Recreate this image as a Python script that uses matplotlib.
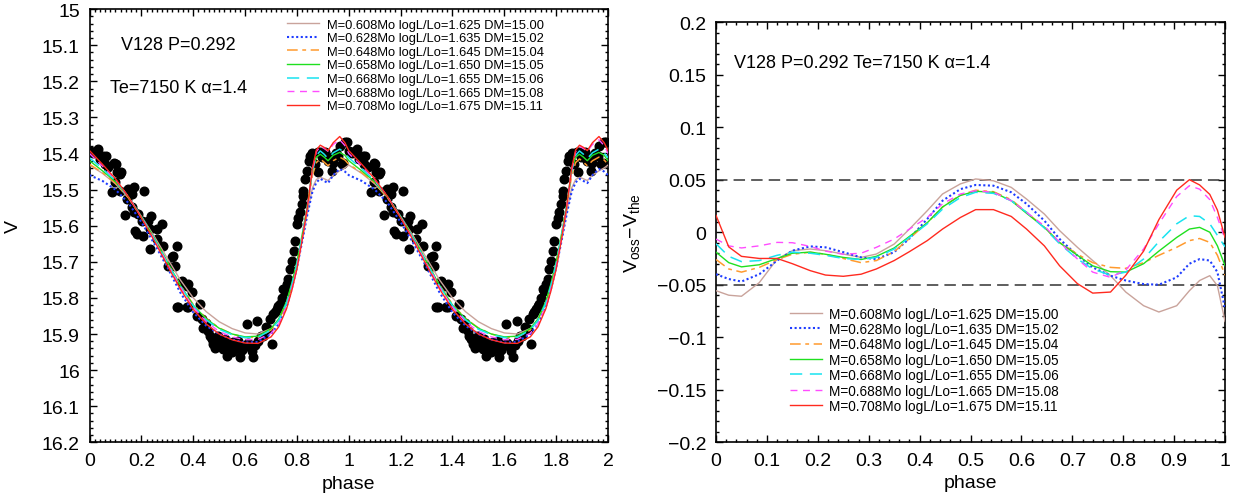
import matplotlib
matplotlib.use("Agg")
import matplotlib.pyplot as plt
from matplotlib.ticker import MultipleLocator, FuncFormatter

plt.rcParams['font.family'] = ['Liberation Sans', 'DejaVu Sans']
plt.rcParams['mathtext.fontset'] = 'custom'
plt.rcParams['mathtext.rm'] = 'Liberation Sans'

# ---------------- data ----------------
labels = [
    "M=0.608Mo logL/Lo=1.625 DM=15.00",
    "M=0.628Mo logL/Lo=1.635 DM=15.02",
    "M=0.648Mo logL/Lo=1.645 DM=15.04",
    "M=0.658Mo logL/Lo=1.650 DM=15.05",
    "M=0.668Mo logL/Lo=1.655 DM=15.06",
    "M=0.688Mo logL/Lo=1.665 DM=15.08",
    "M=0.708Mo logL/Lo=1.675 DM=15.11",
]

# observed points (one cycle, phase 0-1)
obs_phase = [0.002, 0.012, 0.019, 0.024, 0.031, 0.040, 0.053, 0.060, 0.063, 0.073,
             0.086, 0.096, 0.098, 0.101, 0.105, 0.118, 0.118, 0.121, 0.137, 0.146,
             0.147, 0.163, 0.163, 0.172, 0.172, 0.175, 0.182, 0.188, 0.201, 0.208,
             0.210, 0.227, 0.233, 0.233, 0.236, 0.259, 0.262, 0.281, 0.285, 0.304,
             0.317, 0.323, 0.330, 0.336, 0.336, 0.343, 0.356, 0.356, 0.375, 0.375,
             0.381, 0.381, 0.394, 0.413, 0.426, 0.433, 0.439, 0.450, 0.458, 0.465,
             0.471, 0.478, 0.485, 0.497, 0.503, 0.510, 0.516, 0.522, 0.529, 0.535,
             0.542, 0.548, 0.555, 0.561, 0.568, 0.574, 0.581, 0.587, 0.593, 0.606,
             0.612, 0.620, 0.626, 0.632, 0.640, 0.647, 0.651, 0.660, 0.670, 0.680,
             0.690, 0.696, 0.703, 0.709, 0.716, 0.722, 0.728, 0.735, 0.741, 0.748,
             0.754, 0.761, 0.767, 0.773, 0.780, 0.787, 0.793, 0.799, 0.806, 0.812,
             0.818, 0.825, 0.825, 0.832, 0.838, 0.845, 0.851, 0.860, 0.870, 0.880,
             0.883, 0.889, 0.895, 0.902, 0.910, 0.920, 0.934, 0.934, 0.940, 0.950,
             0.960, 0.965, 0.973, 0.979, 0.986, 0.992]
obs_V = [15.392, 15.400, 15.397, 15.392, 15.388, 15.415, 15.406, 15.429, 15.406, 15.438,
         15.508, 15.427, 15.480, 15.429, 15.452, 15.457, 15.503, 15.452, 15.571, 15.526,
         15.499, 15.512, 15.549, 15.494, 15.563, 15.614, 15.623, 15.568, 15.586, 15.628,
         15.503, 15.586, 15.609, 15.665, 15.572, 15.637, 15.609, 15.596, 15.656, 15.711,
         15.688, 15.683, 15.711, 15.656, 15.826, 15.826, 15.753, 15.757, 15.766, 15.826,
         15.762, 15.826, 15.785, 15.850, 15.817, 15.859, 15.882, 15.870, 15.891, 15.905,
         15.914, 15.928, 15.940, 15.905, 15.923, 15.935, 15.942, 15.915, 15.960, 15.930,
         15.933, 15.950, 15.923, 15.942, 15.935, 15.919, 15.965, 15.945, 15.933, 15.873,
         15.925, 15.935, 15.947, 15.965, 15.930, 15.863, 15.919, 15.905, 15.905, 15.880,
         15.886, 15.859, 15.928, 15.845, 15.840, 15.831, 15.822, 15.817, 15.799, 15.776,
         15.780, 15.762, 15.748, 15.720, 15.697, 15.670, 15.642, 15.596, 15.580, 15.563,
         15.540, 15.517, 15.504, 15.470, 15.448, 15.420, 15.406, 15.400, 15.429, 15.397,
         15.452, 15.397, 15.410, 15.402, 15.395, 15.420, 15.411, 15.448, 15.425, 15.400,
         15.406, 15.380, 15.429, 15.425, 15.369, 15.369]

# model light curves (one cycle)
mod_phase = [0.00, 0.05, 0.10, 0.15, 0.20, 0.25, 0.30, 0.35, 0.40, 0.45,
             0.50, 0.55, 0.60, 0.65, 0.70, 0.73, 0.76, 0.78, 0.80, 0.82,
             0.84, 0.86, 0.875, 0.89, 0.905, 0.92, 0.94, 0.965, 0.985, 1.00]
V_608 = [15.432, 15.455, 15.484, 15.522, 15.574, 15.630, 15.690, 15.750, 15.800, 15.838,
         15.866, 15.885, 15.897, 15.900, 15.885, 15.860, 15.815, 15.768, 15.710, 15.640,
         15.565, 15.495, 15.472, 15.466, 15.470, 15.475, 15.460, 15.448, 15.440, 15.432]
V_628 = [15.460, 15.476, 15.500, 15.537, 15.590, 15.650, 15.715, 15.785, 15.840, 15.877,
         15.900, 15.915, 15.924, 15.922, 15.900, 15.872, 15.825, 15.775, 15.715, 15.645,
         15.570, 15.505, 15.480, 15.470, 15.476, 15.482, 15.460, 15.443, 15.450, 15.460]
V_648 = [15.430, 15.453, 15.482, 15.523, 15.577, 15.636, 15.700, 15.764, 15.818, 15.857,
         15.883, 15.900, 15.910, 15.909, 15.889, 15.862, 15.815, 15.765, 15.705, 15.632,
         15.552, 15.460, 15.425, 15.415, 15.424, 15.434, 15.420, 15.410, 15.418, 15.430]
V_658 = [15.420, 15.448, 15.478, 15.520, 15.575, 15.635, 15.700, 15.765, 15.820, 15.858,
         15.884, 15.900, 15.908, 15.906, 15.885, 15.858, 15.810, 15.760, 15.700, 15.625,
         15.545, 15.445, 15.410, 15.402, 15.410, 15.420, 15.405, 15.397, 15.405, 15.420]
V_668 = [15.412, 15.442, 15.475, 15.520, 15.576, 15.637, 15.703, 15.767, 15.822, 15.861,
         15.887, 15.902, 15.910, 15.909, 15.889, 15.862, 15.815, 15.765, 15.705, 15.630,
         15.548, 15.447, 15.405, 15.393, 15.402, 15.414, 15.398, 15.388, 15.398, 15.412]
V_688 = [15.400, 15.435, 15.472, 15.520, 15.577, 15.640, 15.706, 15.770, 15.826, 15.866,
         15.893, 15.908, 15.916, 15.915, 15.898, 15.872, 15.825, 15.775, 15.715, 15.637,
         15.550, 15.445, 15.395, 15.380, 15.386, 15.394, 15.375, 15.362, 15.378, 15.400]
V_708 = [15.392, 15.430, 15.470, 15.520, 15.578, 15.642, 15.710, 15.775, 15.832, 15.872,
         15.900, 15.916, 15.925, 15.926, 15.908, 15.880, 15.830, 15.780, 15.720, 15.640,
         15.550, 15.440, 15.390, 15.377, 15.383, 15.392, 15.370, 15.353, 15.370, 15.392]

# residuals V_oss - V_the
res_phase = [0.0, 0.025, 0.05, 0.085, 0.12, 0.15, 0.185, 0.215, 0.25, 0.285,
             0.315, 0.35, 0.38, 0.415, 0.445, 0.48, 0.51, 0.545, 0.58, 0.61,
             0.645, 0.675, 0.71, 0.74, 0.775, 0.805, 0.84, 0.87, 0.905, 0.93,
             0.95, 0.97, 0.985, 1.0]
R_608 = [-0.0557, -0.060, -0.061, -0.048, -0.0256, -0.0176, -0.016, -0.0176, -0.0208, -0.024,
         -0.0208, -0.0113, 0.003, 0.0205, 0.0364, 0.046, 0.0507, 0.049, 0.0427, 0.0316,
         0.0173, 0.0015, -0.0144, -0.027, -0.0414, -0.057, -0.070, -0.076, -0.070, -0.0557,
         -0.046, -0.0414, -0.051, -0.085]
R_628 = [-0.040, -0.0446, -0.047, -0.040, -0.027, -0.0176, -0.0135, -0.0144, -0.019, -0.024,
         -0.0256, -0.019, -0.006, 0.0126, 0.030, 0.041, 0.045, 0.0443, 0.038, 0.027,
         0.011, -0.0065, -0.0223, -0.0335, -0.0414, -0.046, -0.0494, -0.050, -0.043, -0.030,
         -0.0256, -0.027, -0.038, -0.073]
R_648 = [-0.026, -0.035, -0.038, -0.0335, -0.026, -0.021, -0.019, -0.021, -0.025, -0.029,
         -0.027, -0.0185, -0.006, 0.009, 0.024, 0.0354, 0.040, 0.0386, 0.031, 0.019,
         0.0046, -0.0097, -0.021, -0.029, -0.0335, -0.0344, -0.029, -0.022, -0.0144, -0.008,
         -0.006, -0.0097, -0.022, -0.041]
R_658 = [-0.019, -0.029, -0.033, -0.031, -0.025, -0.020, -0.019, -0.021, -0.024, -0.026,
         -0.023, -0.015, -0.004, 0.009, 0.024, 0.035, 0.039, 0.038, 0.030, 0.018,
         0.0046, -0.010, -0.022, -0.032, -0.0376, -0.038, -0.030, -0.018, -0.005, 0.003,
         0.0046, 0.0, -0.013, -0.032]
R_668 = [-0.011, -0.023, -0.028, -0.027, -0.022, -0.019, -0.020, -0.022, -0.025, -0.026,
         -0.024, -0.016, -0.005, 0.008, 0.022, 0.033, 0.038, 0.037, 0.030, 0.019,
         0.004, -0.011, -0.0255, -0.035, -0.041, -0.038, -0.0255, -0.009, 0.008, 0.0157,
         0.015, 0.008, -0.003, -0.014]
R_688 = [-0.0065, -0.013, -0.015, -0.013, -0.0097, -0.010, -0.0135, -0.018, -0.021, -0.020,
         -0.0144, -0.0065, 0.003, 0.014, 0.027, 0.0364, 0.0395, 0.038, 0.030, 0.019,
         0.006, -0.0097, -0.0255, -0.038, -0.043, -0.036, -0.016, 0.008, 0.034, 0.0443,
         0.041, 0.031, 0.014, -0.0065]
R_708 = [0.016, -0.014, -0.023, -0.025, -0.025, -0.030, -0.0366, -0.0408, -0.042, -0.040,
         -0.035, -0.027, -0.0185, -0.008, 0.003, 0.014, 0.0215, 0.0215, 0.015, 0.003,
         -0.013, -0.032, -0.049, -0.058, -0.057, -0.041, -0.018, 0.012, 0.040, 0.050,
         0.045, 0.036, 0.021, -0.005]

V_models = [V_608, V_628, V_648, V_658, V_668, V_688, V_708]
R_models = [R_608, R_628, R_648, R_658, R_668, R_688, R_708]

# ---------------- styles ----------------
colors = ['#c9a39b', '#1f3dff', '#ff9a2e', '#1fe01f', '#19e3f0', '#ff4cff', '#ff2a1f']
dash_styles = [None, (1.0, 1.2), (7, 3, 2.5, 3), None, (8, 5), (5, 4), None]
lws = [1.0, 1.5, 1.1, 1.0, 1.1, 1.0, 1.0]

def fmt(v, pos):
    s = f"{round(v, 4):g}"
    if s == '-0':
        s = '0'
    return s.replace('-', '\u2212')

def style_axes(ax):
    ax.tick_params(which='both', direction='in', top=True, right=True,
                   width=1.0, labelsize=14, pad=7)
    ax.tick_params(which='major', length=5)
    ax.tick_params(which='minor', length=2.5)
    for sp in ax.spines.values():
        sp.set_linewidth(1.2)
    ax.xaxis.set_major_formatter(FuncFormatter(fmt))
    ax.yaxis.set_major_formatter(FuncFormatter(fmt))

def style_line(line, i):
    if dash_styles[i] is not None:
        line.set_dashes(dash_styles[i])

fig = plt.figure(figsize=(12.47, 5.02), dpi=100)
ax1 = fig.add_axes([0.0718, 0.1169, 0.4158, 0.863])
ax2 = fig.add_axes([0.5742, 0.1171, 0.4082, 0.8367])

# ---------------- left panel ----------------
ax1.plot(obs_phase, obs_V, 'o', color='black', ms=6.2, mec='black', zorder=2)
ax1.plot([p + 1 for p in obs_phase], obs_V, 'o', color='black', ms=6.2, mec='black', zorder=2)

for i, v in enumerate(V_models):
    xs = mod_phase + [p + 1 for p in mod_phase[1:]]
    ys = v + v[1:]
    ln, = ax1.plot(xs, ys, color=colors[i], lw=lws[i], label=labels[i], zorder=3 + i)
    style_line(ln, i)

ax1.set_xlim(0, 2)
ax1.set_ylim(16.2, 15.0)
ax1.xaxis.set_major_locator(MultipleLocator(0.2))
ax1.xaxis.set_minor_locator(MultipleLocator(0.02))
ax1.yaxis.set_major_locator(MultipleLocator(0.1))
ax1.yaxis.set_minor_locator(MultipleLocator(0.02))
style_axes(ax1)
ax1.set_xlabel('phase', fontsize=14, labelpad=4)
ax1.set_ylabel('V', fontsize=14, labelpad=14)

ax1.text(0.171, 0.919, 'V128 P=0.292', transform=ax1.transAxes, fontsize=13,
         ha='center', va='center')
ax1.text(0.172, 0.82, 'Te=7150 K \u03b1=1.4', transform=ax1.transAxes, fontsize=13,
         ha='center', va='center')

ax1.legend(loc='upper left', bbox_to_anchor=(0.380, 0.978), frameon=False,
           fontsize=9.3, handlelength=2.5, handletextpad=0.6, labelspacing=0.12,
           borderpad=0, borderaxespad=0)

# ---------------- right panel ----------------
for i, r in enumerate(R_models):
    ln, = ax2.plot(res_phase, r, color=colors[i], lw=lws[i], label=labels[i], zorder=3 + i)
    style_line(ln, i)

for yv in (0.05, -0.05):
    hl = ax2.axhline(yv, color='#333333', lw=1.1, zorder=2)
    hl.set_dashes((7.5, 4))

ax2.set_xlim(0, 1)
ax2.set_ylim(-0.2, 0.2)
ax2.xaxis.set_major_locator(MultipleLocator(0.1))
ax2.xaxis.set_minor_locator(MultipleLocator(0.02))
ax2.yaxis.set_major_locator(MultipleLocator(0.05))
ax2.yaxis.set_minor_locator(MultipleLocator(0.01))
style_axes(ax2)
ax2.set_xlabel('phase', fontsize=14, labelpad=4)
ax2.set_ylabel(r'V$_{\rm oss}$$-$V$_{\rm the}$', fontsize=14, labelpad=10)

ax2.text(0.036, 0.9045, 'V128 P=0.292 Te=7150 K \u03b1=1.4', transform=ax2.transAxes,
         fontsize=13, ha='left', va='center')

ax2.legend(loc='upper left', bbox_to_anchor=(0.145, 0.3226), frameon=False,
           fontsize=9.8, handlelength=2.33, handletextpad=0.55, labelspacing=0.1,
           borderpad=0, borderaxespad=0)

fig.savefig('out.png', dpi=100)
